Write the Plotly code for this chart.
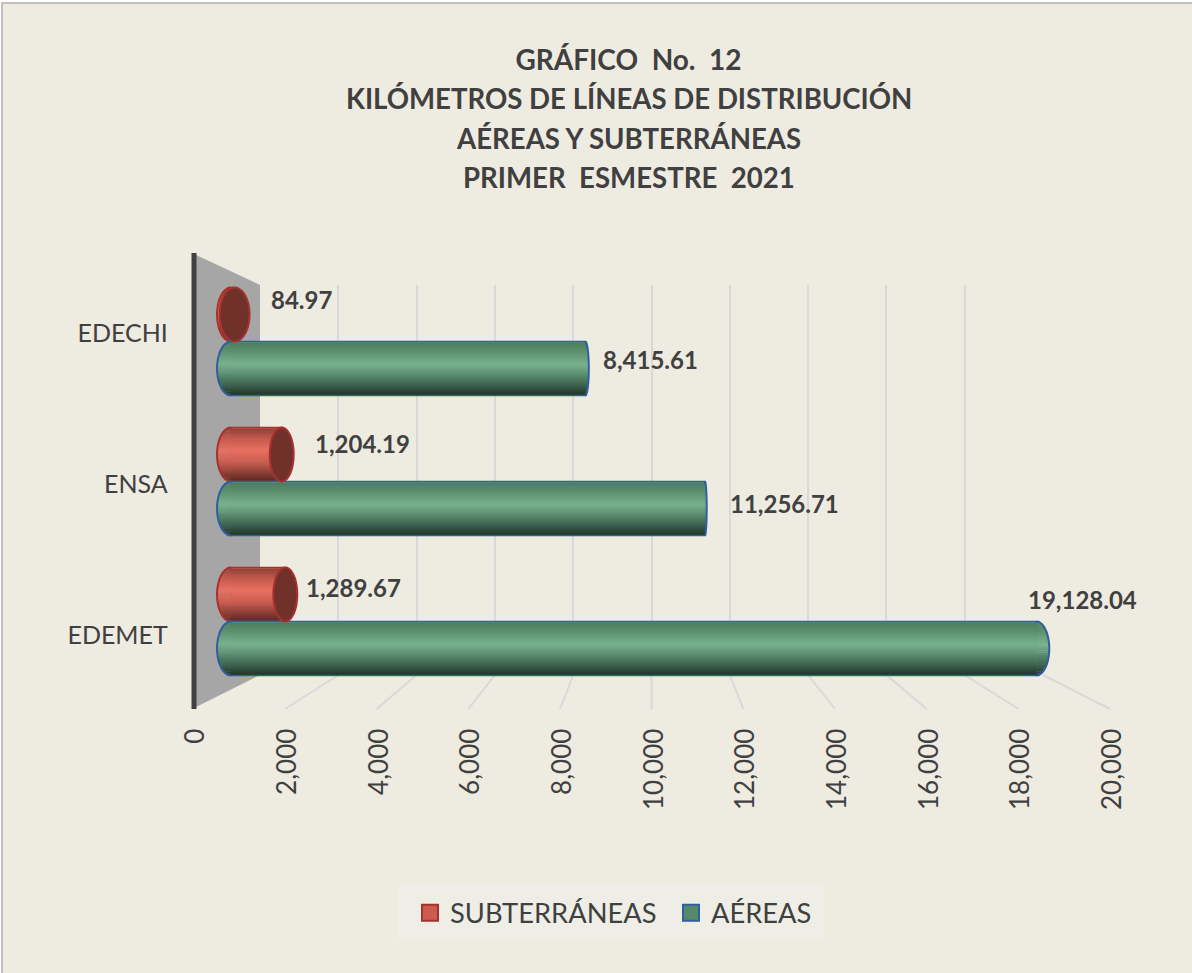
import math
import plotly.graph_objects as go

W, H = 1192, 973
categories = ["EDEMET", "ENSA", "EDECHI"]
aereas = [19128.04, 11256.71, 8415.61]
subterraneas = [1289.67, 1204.19, 84.97]
x_ticks = [0, 2000, 4000, 6000, 8000, 10000, 12000, 14000, 16000, 18000, 20000]
title_lines = ["GRÁFICO\u00a0 No.\u00a0 12", "KILÓMETROS DE LÍNEAS DE DISTRIBUCIÓN",
               "AÉREAS Y SUBTERRÁNEAS", "PRIMER\u00a0 ESMESTRE\u00a0 2021"]

FONT = "Lato, Carlito, Calibri, sans-serif"
TXT = "#404040"
BG = "#eeebe0"

def fx(p): return p / W
def fy(p): return 1 - p / H

def hex2rgb(c): return [int(c[i:i + 2], 16) for i in (1, 3, 5)]
def ramp(stops, t):
    for (a, ca), (b, cb) in zip(stops, stops[1:]):
        if t <= b:
            f = (t - a) / (b - a)
            ra, rb = hex2rgb(ca), hex2rgb(cb)
            return "rgb(%d,%d,%d)" % tuple(round(u + (v - u) * f) for u, v in zip(ra, rb))
    return stops[-1][1]

GREEN = [(0, "#4c7c5e"), (.2, "#5f9271"), (.42, "#78b28c"), (.62, "#5b8c70"), (.82, "#3c614d"), (1, "#213629")]
RED = [(0, "#8f4038"), (.2, "#c45a4e"), (.42, "#e87061"), (.65, "#c85e51"), (.85, "#8d3f36"), (1, "#5e2a24")]
BLUE_EDGE, RED_EDGE, DISC = "#2f5f9e", "#a5322e", "#70312b"

# pixel geometry
BAR_H = 54.0
GROUP = 140.0
CENTER0 = 621.5           # pixel y of first category in bar axis
STRIPS = 26
X0 = 231.0; SCALE = 0.0421; XMIN = -1000; XMAX = 21000
bar_dom = [fx(X0 + XMIN * SCALE), fx(X0 + XMAX * SCALE)]
bar_ydom = [fy(CENTER0 + GROUP / 2), fy(CENTER0 - 2 * GROUP - GROUP / 2)]

green_rx = [13, 1.8, 3.5]
red_rx = [12, 12, 15]
LEFT_RX = 14

fig = go.Figure()

# front axis carrying category and value labels
fig.add_trace(go.Bar(x=aereas, y=categories, orientation="h", xaxis="x", yaxis="y",
                     marker_opacity=0, showlegend=False, hoverinfo="skip"))
# back wall axis carrying the gridlines
fig.add_trace(go.Scatter(x=x_ticks, y=x_ticks, xaxis="x2", yaxis="y2", mode="markers",
                         marker_opacity=0, showlegend=False, hoverinfo="skip"))

def cylinder(values, stops, edge, sign):
    """Layered bars that build the cylinder's shaded body; sign=+1 above category centre."""
    frac = BAR_H / GROUP
    base_off = 0 if sign > 0 else -frac
    fig.add_trace(go.Bar(x=values, y=categories, orientation="h", xaxis="x3", yaxis="y3",
                         offset=base_off, width=frac, marker_color=ramp(stops, .5),
                         marker_line=dict(color=edge, width=1.5), showlegend=False, hoverinfo="skip"))
    inset = 1.0
    h = (BAR_H - 2 * inset) / STRIPS
    for s in range(STRIPS):
        top = inset + s * h   # pixel from top of bar; each layer reaches down to the bottom
        fig.add_trace(go.Bar(x=values, y=categories, orientation="h", xaxis="x3", yaxis="y3",
                             offset=base_off + inset / GROUP, width=(BAR_H - top - inset) / GROUP,
                             marker_color=ramp(stops, (s + .5) / STRIPS),
                             marker_line_width=0, showlegend=False, hoverinfo="skip"))

cylinder(subterraneas, RED, RED_EDGE, +1)
cylinder(aereas, GREEN, BLUE_EDGE, -1)

# legend entries
fig.add_trace(go.Scatter(x=[None], y=[None], name="SUBTERRÁNEAS", mode="markers", xaxis="x3", yaxis="y3",
                         marker=dict(symbol="square", size=16, color="#cd5c50", line=dict(color=RED_EDGE, width=2))))
fig.add_trace(go.Scatter(x=[None], y=[None], name="AÉREAS", mode="markers", xaxis="x3", yaxis="y3",
                         marker=dict(symbol="square", size=16, color="#56896a", line=dict(color=BLUE_EDGE, width=2))))

shapes = []
# chart area and frame
shapes.append(dict(type="rect", xref="paper", yref="paper", x0=fx(2), x1=fx(W + 4), y0=fy(3), y1=fy(H + 4),
                   fillcolor=BG, line=dict(color="#c0c0c0", width=2), layer="below"))
# legend plate
shapes.append(dict(type="rect", xref="paper", yref="paper", x0=fx(398), x1=fx(825), y0=fy(884), y1=fy(942),
                   fillcolor="#eeeee6", line_width=0, layer="below"))
# side wall
shapes.append(dict(type="path", xref="paper", yref="paper", layer="below", fillcolor="#a6a6a6", line_width=0,
                   path=f"M{fx(194)},{fy(254)} L{fx(260)},{fy(285)} L{fx(260)},{fy(675)} L{fx(194)},{fy(708)} Z"))
# dark edge of the wall
shapes.append(dict(type="line", xref="paper", yref="paper", layer="below",
                   x0=fx(194), x1=fx(194), y0=fy(253), y1=fy(709),
                   line=dict(color="#404040", width=5)))
# floor lines: back wall tick to front axis tick
BACK0, BACK1, FRONT0, FRONT1 = 260.0, 1043.0, 193.3, 1110.0
for t in x_ticks[1:]:
    r = t / x_ticks[-1]
    shapes.append(dict(type="line", xref="paper", yref="paper", layer="below",
                       x0=fx(BACK0 + (BACK1 - BACK0) * r), y0=fy(675),
                       x1=fx(FRONT0 + (FRONT1 - FRONT0) * r), y1=fy(709),
                       line=dict(color="#d9d9d9", width=2)))

def half_ellipse(rx, ry, side, n=20):
    pts = [(side * rx * math.cos(math.pi * (-.5 + i / n)), ry * math.sin(math.pi * (-.5 + i / n))) for i in range(n + 1)]
    return "M" + " L".join(f"{a:.2f},{b:.2f}" for a, b in pts)

def full_ellipse(rx, ry, n=40):
    pts = [(rx * math.cos(2 * math.pi * i / n), ry * math.sin(2 * math.pi * i / n)) for i in range(n)]
    return "M" + " L".join(f"{a:.2f},{b:.2f}" for a, b in pts) + " Z"

def caps(values, stops, edge, sign, rxs, disc):
    for i, v in enumerate(values):
        yc = i + sign * (BAR_H / 2) / GROUP
        ends = [(0, -1, LEFT_RX)] if disc else [(0, -1, LEFT_RX), (v, 1, rxs[i])]
        for xa, side, rx in ends:
            h = BAR_H / STRIPS
            for s in range(STRIPS):
                t = (s + .5) / STRIPS
                mid = BAR_H / 2 - (s + .5) * h
                ext = rx * math.sqrt(max(0, 1 - (mid / (BAR_H / 2)) ** 2))
                x0, x1 = sorted((0, side * ext))
                shapes.append(dict(type="rect", xref="x3", yref="y3", xsizemode="pixel", ysizemode="pixel",
                                   xanchor=xa, yanchor=yc, x0=x0, x1=x1, y0=mid - h / 2 - .2, y1=mid + h / 2 + .2,
                                   fillcolor=ramp(stops, t), line_width=0, layer="above"))
            shapes.append(dict(type="path", xref="x3", yref="y3", xsizemode="pixel", ysizemode="pixel",
                               xanchor=xa, yanchor=yc, path=half_ellipse(rx, BAR_H / 2, side),
                               fillcolor="rgba(0,0,0,0)", line=dict(color=edge, width=2), layer="above"))
        if disc:
            shapes.append(dict(type="path", xref="x3", yref="y3", xsizemode="pixel", ysizemode="pixel",
                               xanchor=v, yanchor=yc, path=full_ellipse(rxs[i], BAR_H / 2),
                               fillcolor=DISC, line=dict(color=edge, width=2), layer="above"))

caps(subterraneas, RED, RED_EDGE, +1, red_rx, True)
caps(aereas, GREEN, BLUE_EDGE, -1, green_rx, False)

# value labels: pixel offsets from each bar's end
annotations = []
sub_offsets = [(68, 34.5), (81, 37.5), (67, 41.5)]
aer_offsets = [(46, 22.5), (80, -22.5), (65, -18.5)]
for vals, offs in ((subterraneas, sub_offsets), (aereas, aer_offsets)):
    for cat, v, (dx, dy) in zip(categories, vals, offs):
        annotations.append(dict(x=v, y=cat, xref="x3", yref="y3", xshift=dx, yshift=dy, showarrow=False,
                                text=f"<b>{v:,.2f}</b>", xanchor="center", yanchor="middle",
                                font=dict(family=FONT, size=24, color=TXT)))
# title lines below the first
title_y = [99, 139, 178]
for line, py in zip(title_lines[1:], title_y):
    annotations.append(dict(x=fx(628.5), y=fy(py), xref="paper", yref="paper", showarrow=False,
                            text=f"<b>{line}</b>", xanchor="center", yanchor="middle",
                            font=dict(family=FONT, size=27.6, color=TXT)))

fig.update_layout(
    width=W, height=H, margin=dict(l=0, r=0, t=0, b=0, autoexpand=False), autosize=False,
    paper_bgcolor="#ffffff", plot_bgcolor="rgba(0,0,0,0)", barmode="overlay",
    font=dict(family=FONT, color=TXT),
    title=dict(text=f"<b>{title_lines[0]}</b>", x=fx(628.5), y=fy(60), xanchor="center", yanchor="middle",
               xref="paper", yref="paper", font=dict(family=FONT, size=28, color=TXT)),
    xaxis=dict(domain=[fx(FRONT0 + 2.5), fx(FRONT1 + 2.5)], range=[0, 20000], anchor="y", tickmode="array", tickvals=x_ticks,
               ticktext=[f"{t:,}" for t in x_ticks], tickangle=-90, showgrid=False, zeroline=False, showline=False,
               ticks="", ticklabelstandoff=12, tickfont=dict(family=FONT, size=26, color=TXT)),
    yaxis=dict(domain=[fy(710.5), fy(257.5)], anchor="x", type="category", categoryorder="array",
               categoryarray=categories, range=[-.5, 2.5], showgrid=False, zeroline=False, showline=False,
               ticks="", ticklabelstandoff=27, tickfont=dict(family=FONT, size=25, color=TXT)),
    xaxis2=dict(domain=[fx(BACK0), fx(BACK1)], range=[0, 20000], anchor="y2", tickmode="array", tickvals=x_ticks,
                showticklabels=False, showgrid=True, gridcolor="#d9d9d9", gridwidth=2, zeroline=False, ticks=""),
    yaxis2=dict(domain=[fy(675), fy(285)], anchor="x2", range=[0, 1], showticklabels=False, showgrid=False,
                zeroline=False, ticks=""),
    xaxis3=dict(domain=bar_dom, range=[XMIN, XMAX], anchor="y3", visible=False),
    yaxis3=dict(domain=bar_ydom, range=[-.5, 2.5], anchor="x3", type="category", categoryorder="array",
                categoryarray=categories, visible=False),
    legend=dict(orientation="h", x=fx(410), y=fy(913), xanchor="left", yanchor="middle", bgcolor="rgba(0,0,0,0)",
                font=dict(family=FONT, size=27.3, color=TXT), itemwidth=30, traceorder="normal",
                entrywidth=216, entrywidthmode="pixels"),
    shapes=shapes, annotations=annotations,
)
fig.write_html("out.html", post_script="document.body.style.margin='0';", config={"displayModeBar": False})
